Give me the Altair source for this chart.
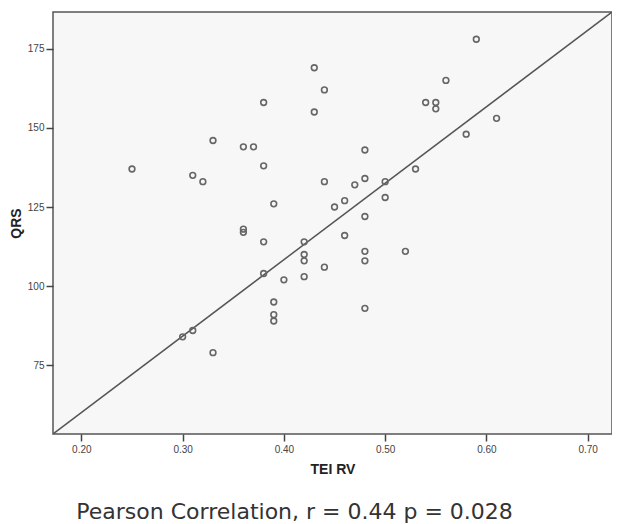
import altair as alt
import pandas as pd

tei_rv = [0.25, 0.31, 0.32, 0.33, 0.36, 0.37, 0.38, 0.38, 0.43, 0.44,
          0.43, 0.59, 0.56, 0.54, 0.55, 0.55, 0.61, 0.58, 0.48, 0.48,
          0.44, 0.47, 0.50, 0.53, 0.50, 0.46, 0.45, 0.39, 0.48, 0.36,
          0.36, 0.38, 0.42, 0.46, 0.42, 0.42, 0.48, 0.48, 0.52, 0.38,
          0.44, 0.42, 0.40, 0.39, 0.39, 0.39, 0.48, 0.30, 0.31, 0.33]
qrs = [137, 135, 133, 146, 144, 144, 158, 138, 169, 162,
       155, 178, 165, 158, 158, 156, 153, 148, 143, 134,
       133, 132, 133, 137, 128, 127, 125, 126, 122, 118,
       117, 114, 114, 116, 110, 108, 111, 108, 111, 104,
       106, 103, 102, 95, 91, 89, 93, 84, 86, 79]

x_domain = [0.172, 0.724]
y_domain = [53.3, 186.6]
x_ticks = [0.2, 0.3, 0.4, 0.5, 0.6, 0.7]
y_ticks = [75, 100, 125, 150, 175]

df = pd.DataFrame({"TEI RV": tei_rv, "QRS": qrs})
ref = pd.DataFrame({"TEI RV": x_domain, "QRS": y_domain})

xs = alt.Scale(domain=x_domain, nice=False, zero=False)
ys = alt.Scale(domain=y_domain, nice=False, zero=False)

x_axis = alt.Axis(values=x_ticks, format=".2f", grid=False, domain=False,
                  tickSize=7, tickColor="#444", tickWidth=1.5,
                  labelFont="Liberation Sans", labelFontSize=10, labelColor="#444",
                  labelPadding=3, title="TEI RV", titleFont="Liberation Sans",
                  titleFontSize=14, titleFontWeight="bold", titleColor="#222",
                  titlePadding=8)
y_axis = alt.Axis(values=y_ticks, grid=False, domain=False,
                  tickSize=7, tickColor="#444", tickWidth=1.5,
                  labelFont="Liberation Sans", labelFontSize=10, labelColor="#444",
                  labelPadding=2, title="QRS", titleFont="Liberation Sans",
                  titleFontSize=14, titleFontWeight="bold", titleColor="#222",
                  titlePadding=4)

line = alt.Chart(ref).mark_line(color="#555", strokeWidth=1.5, clip=True).encode(
    x=alt.X("TEI RV:Q", scale=xs, axis=x_axis),
    y=alt.Y("QRS:Q", scale=ys, axis=y_axis),
)

points = alt.Chart(df).mark_point(shape="circle", filled=False, color="#666",
                                  strokeWidth=1.6, size=33, opacity=1).encode(
    x=alt.X("TEI RV:Q", scale=xs),
    y=alt.Y("QRS:Q", scale=ys),
)

chart = alt.layer(line, points).properties(
    width=559, height=422,
    autosize=alt.AutoSizeParams(type="none"),
    padding={"left": 45, "top": 4, "right": 0, "bottom": 92},
    title=alt.TitleParams(
        "Pearson Correlation, r = 0.44 p = 0.028",
        orient="bottom", anchor="start", dx=67, offset=26,
        font="DejaVu Sans", fontSize=22, fontWeight="normal", color="#333",
    ),
).configure(background="white").configure_view(
    fill="#f7f7f7", stroke="#555", strokeWidth=1.5
)

chart.save("out.html", embed_options={"renderer": "svg", "actions": False})
